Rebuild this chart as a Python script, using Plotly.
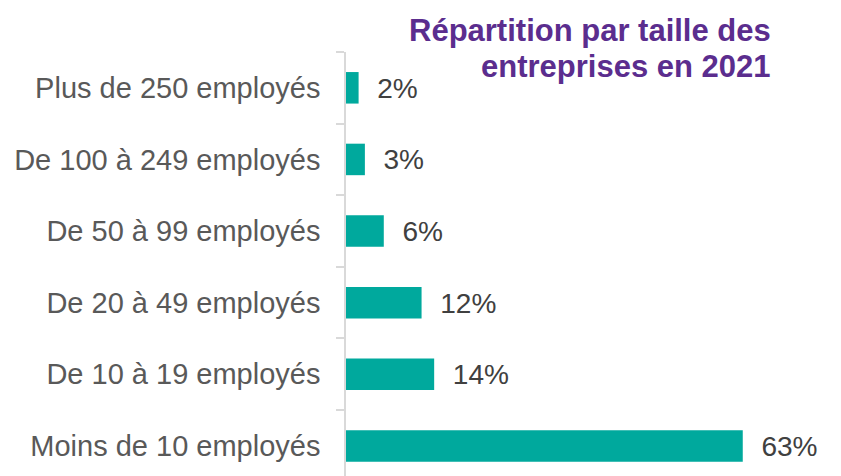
import plotly.graph_objects as go

categories = ["Moins de 10 employés", "De 10 à 19 employés", "De 20 à 49 employés",
              "De 50 à 99 employés", "De 100 à 249 employés", "Plus de 250 employés"]
values = [63, 14, 12, 6, 3, 2]
labels = ["63%", "14%", "12%", "6%", "3%", "2%"]
title_lines = ["Répartition par taille des", "entreprises en 2021"]

# page body has an 8px margin, so the figure is drawn 8px smaller
OFF = 8
W, H = 841 - OFF, 476 - OFF
L, T = 346 - OFF, 52 - OFF
PW, PH = W - L, H - T

fig = go.Figure(go.Bar(
    y=categories, x=values, orientation="h",
    marker=dict(color="#00A99D", line=dict(width=0)),
    width=0.44,
    text=["  " + t for t in labels], textposition="outside",
    textfont=dict(family="Liberation Sans, Arial", size=28.5, color="#404040"),
    cliponaxis=False,
))

fig.update_layout(
    width=W, height=H,
    margin=dict(l=L, r=0, t=T, b=0, pad=0),
    plot_bgcolor="white", paper_bgcolor="white",
    showlegend=False,
    font=dict(family="Liberation Sans, Arial", color="#595959"),
    xaxis=dict(range=[0, 78.6], visible=False, fixedrange=True, automargin=False),
    yaxis=dict(
        type="category", categoryorder="array", categoryarray=categories,
        range=[-0.42, 5.5], automargin=False,
        showline=True, linecolor="#d9d9d9", linewidth=1.5,
        ticks="outside", tickson="boundaries", ticklen=8, tickcolor="#d9d9d9", tickwidth=1.5,
        ticklabelstandoff=18,
        tickfont=dict(family="Liberation Sans, Arial", size=29, color="#595959"),
        showgrid=False, zeroline=False,
    ),
)

title_font = dict(family="Liberation Sans, Arial", size=31, color="#5B2D8E", weight="bold")
for line, baseline in zip(title_lines, [38, 74]):
    fig.add_annotation(
        text=line, xref="paper", yref="paper",
        x=(773 - OFF - L) / PW, xanchor="right",
        y=(H - baseline - 4) / PH, yanchor="bottom",
        showarrow=False, align="right", font=title_font,
    )

fig.write_html("out.html")
